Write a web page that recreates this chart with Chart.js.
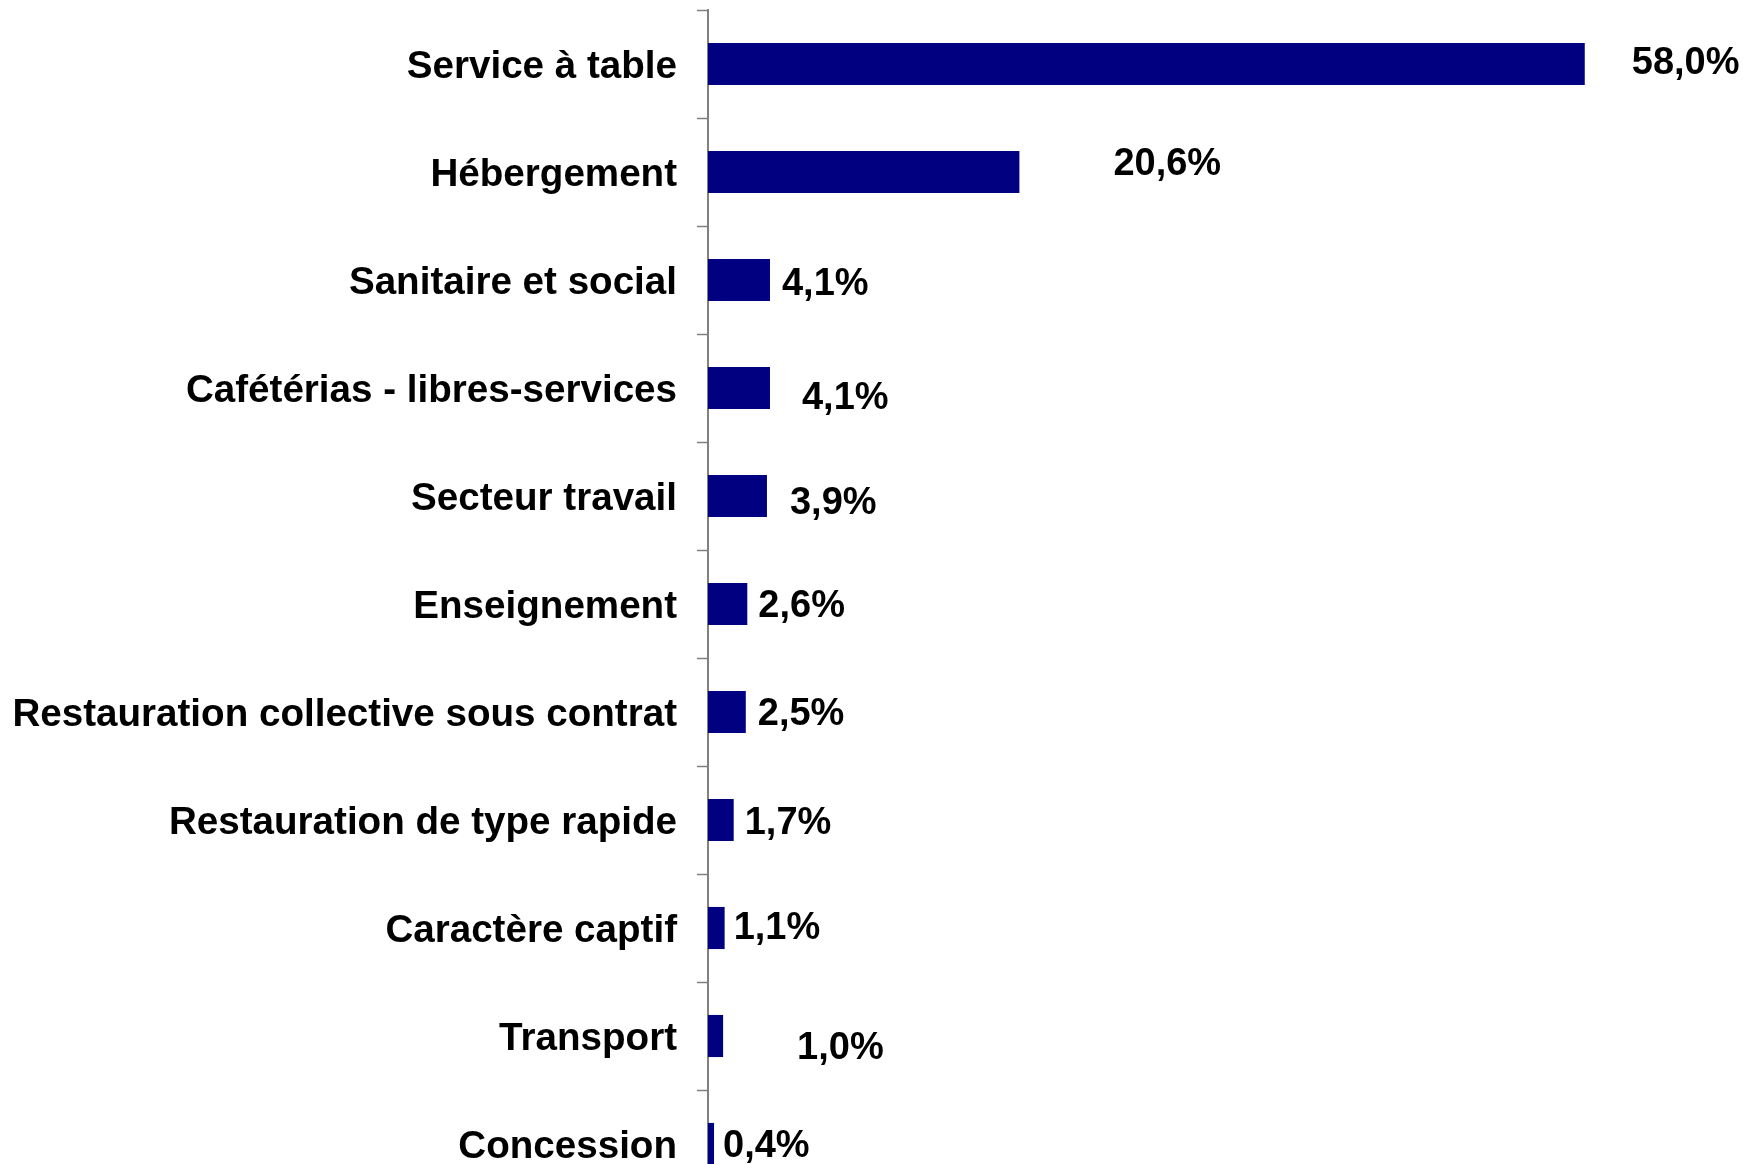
<!DOCTYPE html>
<html>
<head>
<meta charset="utf-8">
<script src="https://cdn.jsdelivr.net/npm/chart.js@4/dist/chart.umd.min.js"></script>
<style>
  html, body { margin: 0; padding: 0; background: #fff; overflow: hidden; }
  #chart { display: block; }
</style>
</head>
<body>
<canvas id="chart" width="1745" height="1210"></canvas>
<script>
var categories = [
  'Service à table',
  'Hébergement',
  'Sanitaire et social',
  'Cafétérias - libres-services',
  'Secteur travail',
  'Enseignement',
  'Restauration collective sous contrat',
  'Restauration de type rapide',
  'Caractère captif',
  'Transport',
  'Concession'
];
var shares = [58.0, 20.6, 4.1, 4.1, 3.9, 2.6, 2.5, 1.7, 1.1, 1.0, 0.4];
var shareLabels = ['58,0%', '20,6%', '4,1%', '4,1%', '3,9%', '2,6%', '2,5%', '1,7%', '1,1%', '1,0%', '0,4%'];

// labels were placed by hand in the original, offsets from bar end
var labelDx = [47, 94, 12, 32, 23, 11, 12, 11, 9, 74, 9];
var labelDy = [0, -7, 5, 11, 8, 3, 3, 4, 1, 13, 3];

var fontFamily = '"Liberation Sans", Arial, sans-serif';

var valueLabels = {
  id: 'valueLabels',
  afterDatasetsDraw: function (chart) {
    var ctx = chart.ctx;
    var meta = chart.getDatasetMeta(0);
    ctx.save();
    ctx.font = 'bold 38px ' + fontFamily;
    ctx.fillStyle = '#000';
    ctx.textAlign = 'left';
    ctx.textBaseline = 'middle';
    meta.data.forEach(function (bar, i) {
      ctx.fillText(shareLabels[i], bar.x + labelDx[i], bar.y + labelDy[i]);
    });
    ctx.restore();
  }
};

new Chart(document.getElementById('chart'), {
  type: 'bar',
  data: {
    labels: categories,
    datasets: [{
      data: shares,
      backgroundColor: '#000080',
      borderWidth: 0,
      categoryPercentage: 1,
      barPercentage: 0.39
    }]
  },
  options: {
    indexAxis: 'y',
    responsive: false,
    animation: false,
    layout: { padding: { top: 10, bottom: 12, left: 0, right: 0 } },
    plugins: {
      legend: { display: false },
      tooltip: { enabled: false }
    },
    scales: {
      x: {
        display: false,
        min: 0,
        max: 68.6
      },
      y: {
        afterFit: function (scale) {
          scale.width = 708;
          // no extra room for the first/last label, the plot runs off the bottom
          scale.paddingTop = 0;
          scale.paddingBottom = 0;
        },
        grid: {
          offset: true,
          drawOnChartArea: false,
          tickLength: 11,
          tickColor: '#808080',
          tickWidth: 1.5
        },
        border: { display: true, color: '#808080', width: 2 },
        ticks: {
          color: '#000',
          padding: 20,
          labelOffset: 3,
          font: { family: fontFamily, size: 38.6, weight: 'bold' }
        }
      }
    }
  },
  plugins: [valueLabels]
});
</script>
</body>
</html>
